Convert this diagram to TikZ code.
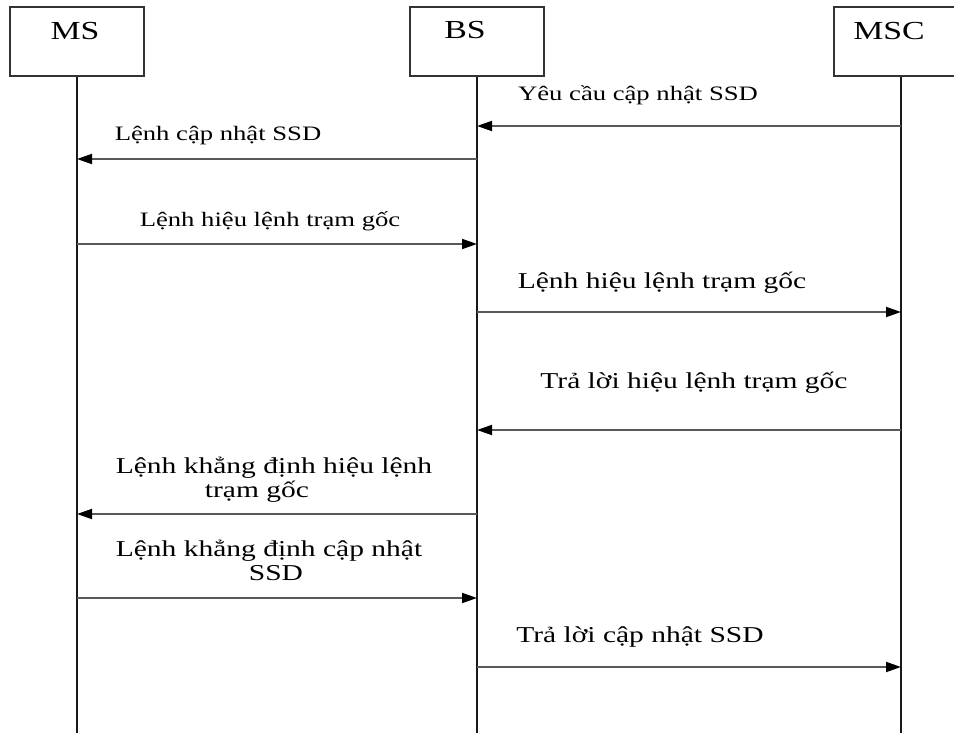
\documentclass[tikz,border=0pt]{standalone}
\usepackage{fontspec}
\setmainfont{Liberation Serif}
\usetikzlibrary{arrows.meta}
% horizontally stretched text, as set in the original drawing
\newcommand{\wide}[1]{\scalebox{1.3}[1]{#1}}
\begin{document}
\begin{tikzpicture}[x=1pt,y=-1pt,
  entity/.style={draw=black!80, line width=2pt, minimum width=134pt,
    minimum height=69pt, inner sep=0pt},
  ename/.style={anchor=base, inner sep=0pt, font=\fontsize{26}{30}\selectfont},
  lifeline/.style={line width=2pt, draw=black!90},
  msg/.style={line width=1.9pt, draw=black!65,
    -{Triangle[length=15pt,width=10pt,color=black]}},
  smalltxt/.style={anchor=base, inner sep=0pt, font=\fontsize{20.5}{24}\selectfont},
  largetxt/.style={anchor=base, inner sep=0pt, align=center,
    font=\fontsize{22.7}{24}\selectfont}]

\clip (0,0) rectangle (954,733);
\fill[white] (0,0) rectangle (954,733);

% entities
\node[entity] (ms)  at (77,41.5)  {};
\node[entity] (bs)  at (477,41.5) {};
\node[entity] (msc) at (901,41.5) {};
\node[ename] (msname)  at (75,40)    {\wide{MS}};
\node[ename] (bsname)  at (465,39)   {\wide{BS}};
\node[ename] (mscname) at (889,40)   {\wide{MSC}};

% lifelines
\coordinate (bottom) at (0,740);
\draw[lifeline] (ms.south)  -- (ms.south  |- bottom);
\draw[lifeline] (bs.south)  -- (bs.south  |- bottom);
\draw[lifeline] (msc.south) -- (msc.south |- bottom);

% messages
\draw[msg] (msc.south |- 0,126) -- (bs.south |- 0,126);
\node[smalltxt] (m1) at (638,101) {\wide{Yêu cầu cập nhật SSD}};

\draw[msg] (bs.south |- 0,159) -- (ms.south |- 0,159);
\node[smalltxt] (m2) at (218,141) {\wide{Lệnh cập nhật SSD}};

\draw[msg] (ms.south |- 0,244) -- (bs.south |- 0,244);
\node[smalltxt] (m3) at (270,226) {\wide{Lệnh hiệu lệnh trạm gốc}};

\draw[msg] (bs.south |- 0,312) -- (msc.south |- 0,312);
\node[largetxt] (m4) at (662,288) {\wide{Lệnh hiệu lệnh trạm gốc}};

\draw[msg] (msc.south |- 0,430) -- (bs.south |- 0,430);
\node[largetxt] (m5) at (694,388) {\wide{Trả lời hiệu lệnh trạm gốc}};

% two-line labels: the base anchor sits on the last line
\draw[msg] (bs.south |- 0,514) -- (ms.south |- 0,514);
\node[largetxt] (m6) at (274,497)
  {\wide{Lệnh khẳng định hiệu lệnh}\\\wide{trạm gốc}\hspace*{34pt}};

\draw[msg] (ms.south |- 0,598) -- (bs.south |- 0,598);
\node[largetxt] (m7) at (269,580)
  {\wide{Lệnh khẳng định cập nhật}\\\hspace*{14pt}\wide{SSD}};

\draw[msg] (bs.south |- 0,667) -- (msc.south |- 0,667);
\node[largetxt] (m8) at (640,642) {\wide{Trả lời cập nhật SSD}};

\end{tikzpicture}
\end{document}
